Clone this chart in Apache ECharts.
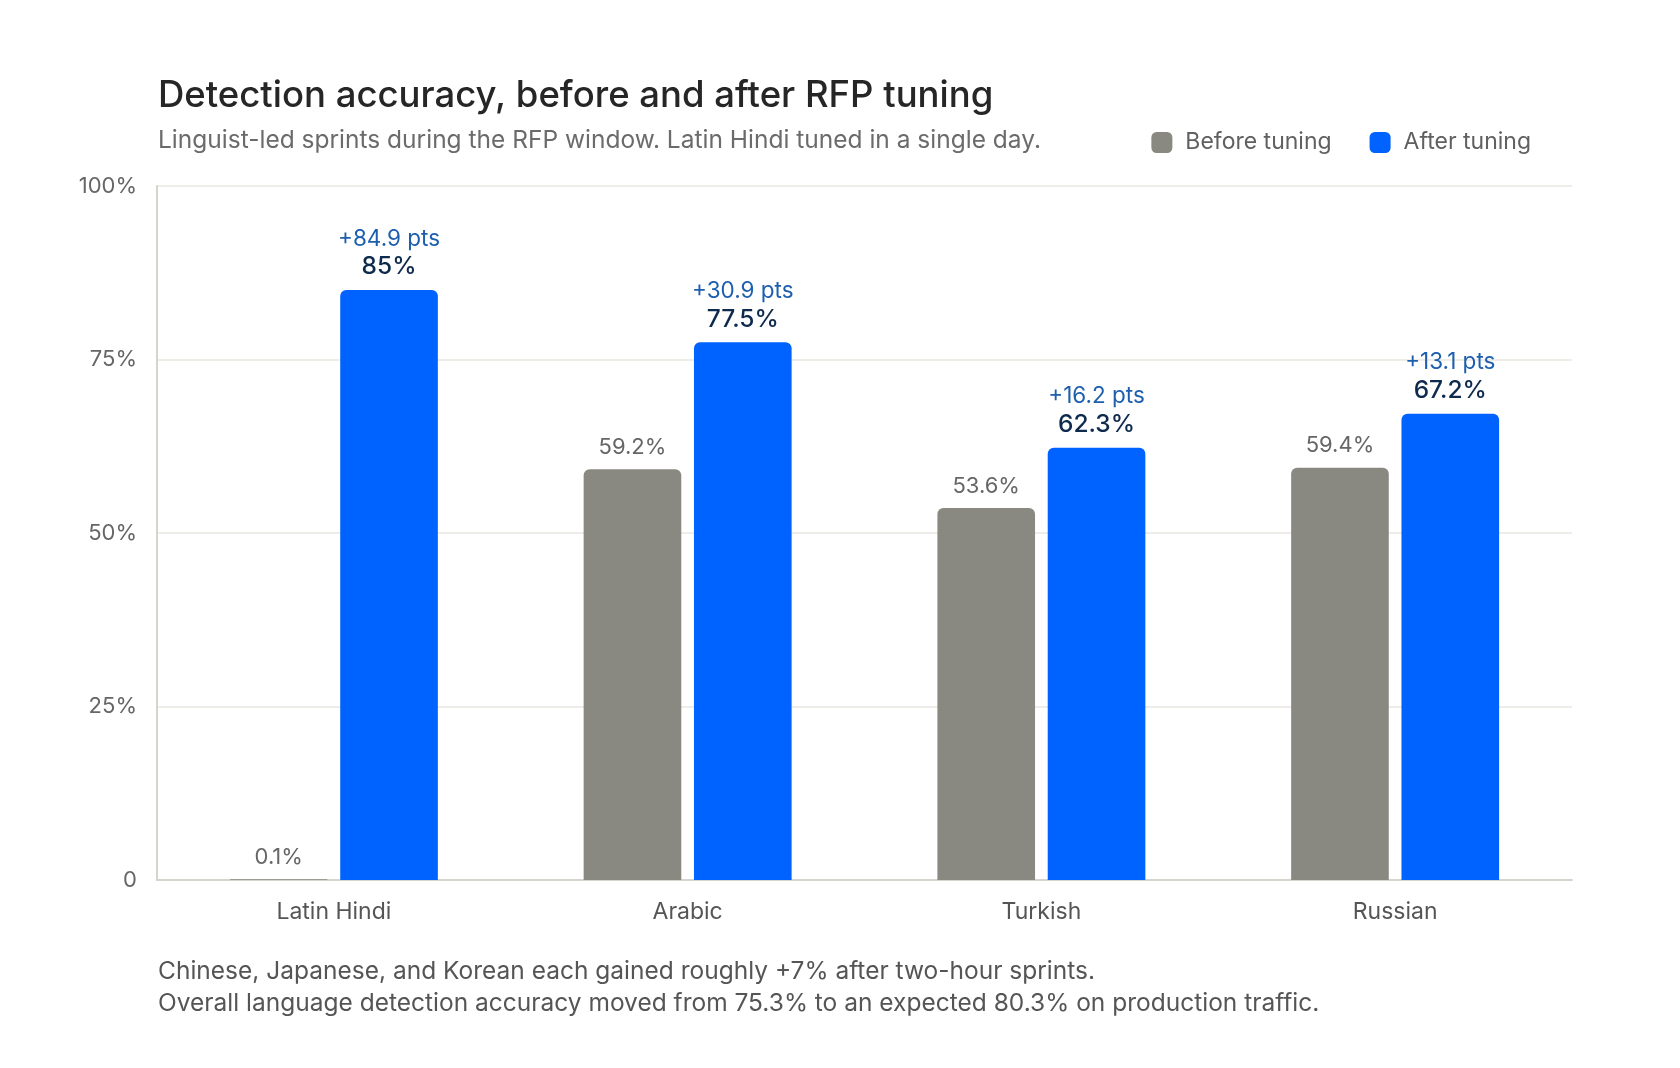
<!DOCTYPE html>
<html><head><meta charset="utf-8">
<script src="https://cdn.jsdelivr.net/npm/echarts@6/dist/echarts.min.js"></script>
<style>html,body{margin:0;padding:0;background:#fff}#c{width:1680px;height:1068px}</style>
</head><body><div id="c"></div>
<script>
const categories = ['Latin Hindi', 'Arabic', 'Turkish', 'Russian'];
const beforeValues = [0.1, 59.2, 53.6, 59.4];
const afterValues = [85, 77.5, 62.3, 67.2];
const deltaLabels = ['+84.9 pts', '+30.9 pts', '+16.2 pts', '+13.1 pts'];
const yTicks = [0, 25, 50, 75, 100];
const titleText = 'Detection accuracy, before and after RFP tuning';
const subtitleText = 'Linguist-led sprints during the RFP window. Latin Hindi tuned in a single day.';
const footLines = ['Chinese, Japanese, and Korean each gained roughly +7% after two-hour sprints.',
  'Overall language detection accuracy moved from 75.3% to an expected 80.3% on production traffic.'];

const FONT = 'Inter, "Noto Sans", sans-serif';
const chart = echarts.init(document.getElementById('c'), null, {renderer: 'canvas'});
chart.setOption({
  backgroundColor: '#ffffff',
  textStyle: {fontFamily: FONT},
  animation: false,
  title: [
    {text: titleText, left: 153, top: 73, textStyle: {fontFamily: FONT, fontSize: 36.5, fontWeight: 500, color: '#262626'}},
    {text: subtitleText, left: 153, top: 123, textStyle: {fontFamily: FONT, fontSize: 24.5, fontWeight: 400, color: '#6b6b6b'}},
    {text: footLines.join('\n'), left: 153, top: 951, textStyle: {fontFamily: FONT, fontSize: 24.5, fontWeight: 400, color: '#555555', lineHeight: 32}}
  ],
  legend: {
    right: 144, top: 126,
    itemWidth: 21, itemHeight: 21, itemGap: 38,
    icon: 'roundRect',
    textStyle: {fontFamily: FONT, fontSize: 23, color: '#606060', padding: [0, 0, 0, 8]},
    data: ['Before tuning', 'After tuning']
  },
  grid: {left: 157, right: 108, top: 186, bottom: 188, containLabel: false},
  xAxis: {
    type: 'category', data: categories,
    axisLine: {show: true, lineStyle: {color: '#d6d4cc', width: 2}},
    axisTick: {show: false},
    axisLabel: {fontFamily: FONT, fontSize: 23, color: '#555555', margin: 21}
  },
  yAxis: {
    type: 'value', min: 0, max: 100, interval: 25,
    axisLine: {show: true, lineStyle: {color: '#d6d4cc', width: 2}},
    axisTick: {show: false},
    splitLine: {lineStyle: {color: '#eeede8', width: 2}},
    axisLabel: {fontFamily: FONT, fontSize: 22, color: '#666666', margin: 20,
      formatter: v => yTicks.includes(v) ? (v === 0 ? '0' : v + '%') : ''}
  },
  series: [
    {
      name: 'Before tuning', type: 'bar', data: beforeValues,
      barWidth: '27.6%', barGap: '13%',
      itemStyle: {color: '#8a8981', borderRadius: [6, 6, 0, 0]},
      label: {show: true, position: 'top', distance: 11, fontFamily: FONT, fontSize: 22, color: '#666666',
        formatter: p => p.value + '%'}
    },
    {
      name: 'After tuning', type: 'bar', data: afterValues,
      barWidth: '27.6%',
      itemStyle: {color: '#0062ff', borderRadius: [6, 6, 0, 0]},
      label: {show: true, position: 'top', distance: 8,
        formatter: p => '{a|' + deltaLabels[p.dataIndex] + '}\n{b|' + p.value + '%}',
        rich: {
          a: {fontFamily: FONT, fontSize: 22.5, color: '#1d5fae', lineHeight: 26, align: 'center'},
          b: {fontFamily: FONT, fontSize: 24.5, fontWeight: 500, color: '#0e2a4c', lineHeight: 30, align: 'center'}
        }
      }
    }
  ]
});
</script></body></html>
